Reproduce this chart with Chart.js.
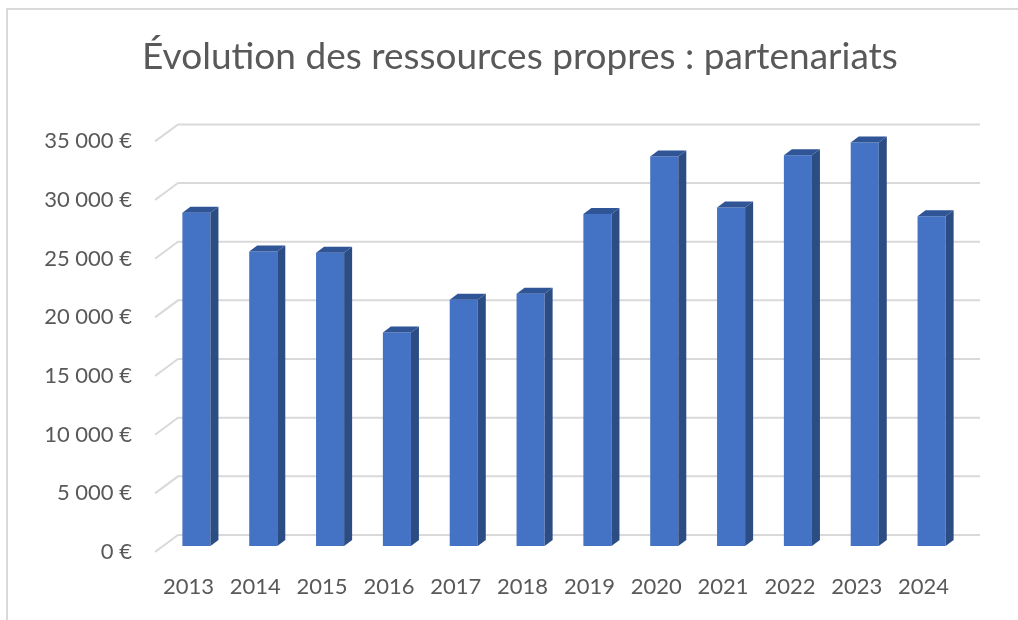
<!DOCTYPE html>
<html>
<head>
<meta charset="utf-8">
<script src="https://cdn.jsdelivr.net/npm/chart.js@4.4.1/dist/chart.umd.min.js"></script>
<style>
  html, body { margin: 0; padding: 0; background: #ffffff; }
  #wrap { position: relative; width: 1018px; height: 620px; overflow: hidden; }
  #frame { position: absolute; left: 6px; top: 8px; width: 1100px; height: 700px; border: 2px solid #d9d9d9; box-sizing: border-box; }
  canvas { position: absolute; left: 0; top: 0; }
</style>
</head>
<body>
<div id="wrap">
  <div id="frame"></div>
  <canvas id="c" width="1018" height="620"></canvas>
</div>
<script>
const titleText = "Évolution des ressources propres : partenariats";
const years = ["2013","2014","2015","2016","2017","2018","2019","2020","2021","2022","2023","2024"];
const resources = [28400, 25100, 25000, 18200, 21000, 21500, 28300, 33200, 28850, 33300, 34400, 28100];
const yTicks = [0, 5000, 10000, 15000, 20000, 25000, 30000, 35000];

const DX = 8, DY = 6;      // bar depth
const WALL_DX = 15, WALL_DY = 11, FRONT_DX = 8, FRONT_DY = 6;

function fmtEuro(v) {
  const s = String(Math.round(v)).replace(/\B(?=(\d{3})+(?!\d))/g, "\u202F");
  return s + "\u00A0€";
}

const wallPlugin = {
  id: 'wall3d',
  beforeDatasetsDraw(chart) {
    const ctx = chart.ctx, ys = chart.scales.y, area = chart.chartArea;
    ctx.save();
    ctx.strokeStyle = '#d9d9d9';
    ctx.lineWidth = 2;
    yTicks.forEach(v => {
      const yp = ys.getPixelForValue(v);
      ctx.beginPath();
      ctx.moveTo(area.left - FRONT_DX, yp + FRONT_DY);
      ctx.lineTo(area.left + WALL_DX, yp - WALL_DY);
      ctx.lineTo(area.right + WALL_DX, yp - WALL_DY);
      ctx.stroke();
    });
    ctx.restore();
  },
  afterDatasetsDraw(chart) {
    const ctx = chart.ctx;
    const meta = chart.getDatasetMeta(0);
    ctx.save();
    meta.data.forEach(bar => {
      const p = bar.getProps(['x', 'y', 'base', 'width'], true);
      const l = p.x - p.width / 2, r = p.x + p.width / 2;
      ctx.fillStyle = '#2C4C84';
      ctx.beginPath();
      ctx.moveTo(r, p.y);
      ctx.lineTo(r + DX, p.y - DY);
      ctx.lineTo(r + DX, p.base - DY);
      ctx.lineTo(r, p.base);
      ctx.closePath();
      ctx.fill();
      ctx.fillStyle = '#2F5597';
      ctx.beginPath();
      ctx.moveTo(l, p.y);
      ctx.lineTo(l + DX, p.y - DY);
      ctx.lineTo(r + DX, p.y - DY);
      ctx.lineTo(r, p.y);
      ctx.closePath();
      ctx.fill();
    });
    ctx.restore();
  }
};

new Chart(document.getElementById('c'), {
  type: 'bar',
  data: {
    labels: years,
    datasets: [{
      data: resources,
      backgroundColor: '#4472C4',
      borderWidth: 0,
      categoryPercentage: 1.0,
      barPercentage: 0.42
    }]
  },
  options: {
    responsive: false,
    animation: false,
    events: [],
    layout: { padding: { left: 22, right: 0, top: 0, bottom: 21 } },
    plugins: {
      legend: { display: false },
      tooltip: { enabled: false },
      title: {
        display: true,
        text: titleText,
        color: '#595959',
        font: { family: 'Lato', size: 37, weight: 'normal', lineHeight: 1.2 },
        padding: { top: 35, bottom: 56 }
      }
    },
    scales: {
      x: {
        afterFit(scale) { scale.height = 53; },
        grid: { display: false, drawTicks: false },
        border: { display: false },
        ticks: {
          color: '#595959',
          font: { family: 'Lato', size: 22 },
          padding: 28,
          labelOffset: -8,
          maxRotation: 0,
          autoSkip: false
        }
      },
      y: {
        min: 0,
        max: 35000,
        afterFit(scale) { scale.width = 141; },
        afterBuildTicks(scale) { scale.ticks = yTicks.map(v => ({ value: v })); },
        grid: { display: false, drawTicks: false },
        border: { display: false },
        ticks: {
          color: '#595959',
          font: { family: 'Lato', size: 22 },
          padding: 31,
          labelOffset: 6,
          callback: v => fmtEuro(v)
        }
      },
      y2: {
        position: 'right',
        min: 0,
        max: 35000,
        afterFit(scale) { scale.width = 53; },
        grid: { display: false, drawTicks: false },
        border: { display: false },
        ticks: { display: false }
      }
    }
  },
  plugins: [wallPlugin]
});
</script>
</body>
</html>
